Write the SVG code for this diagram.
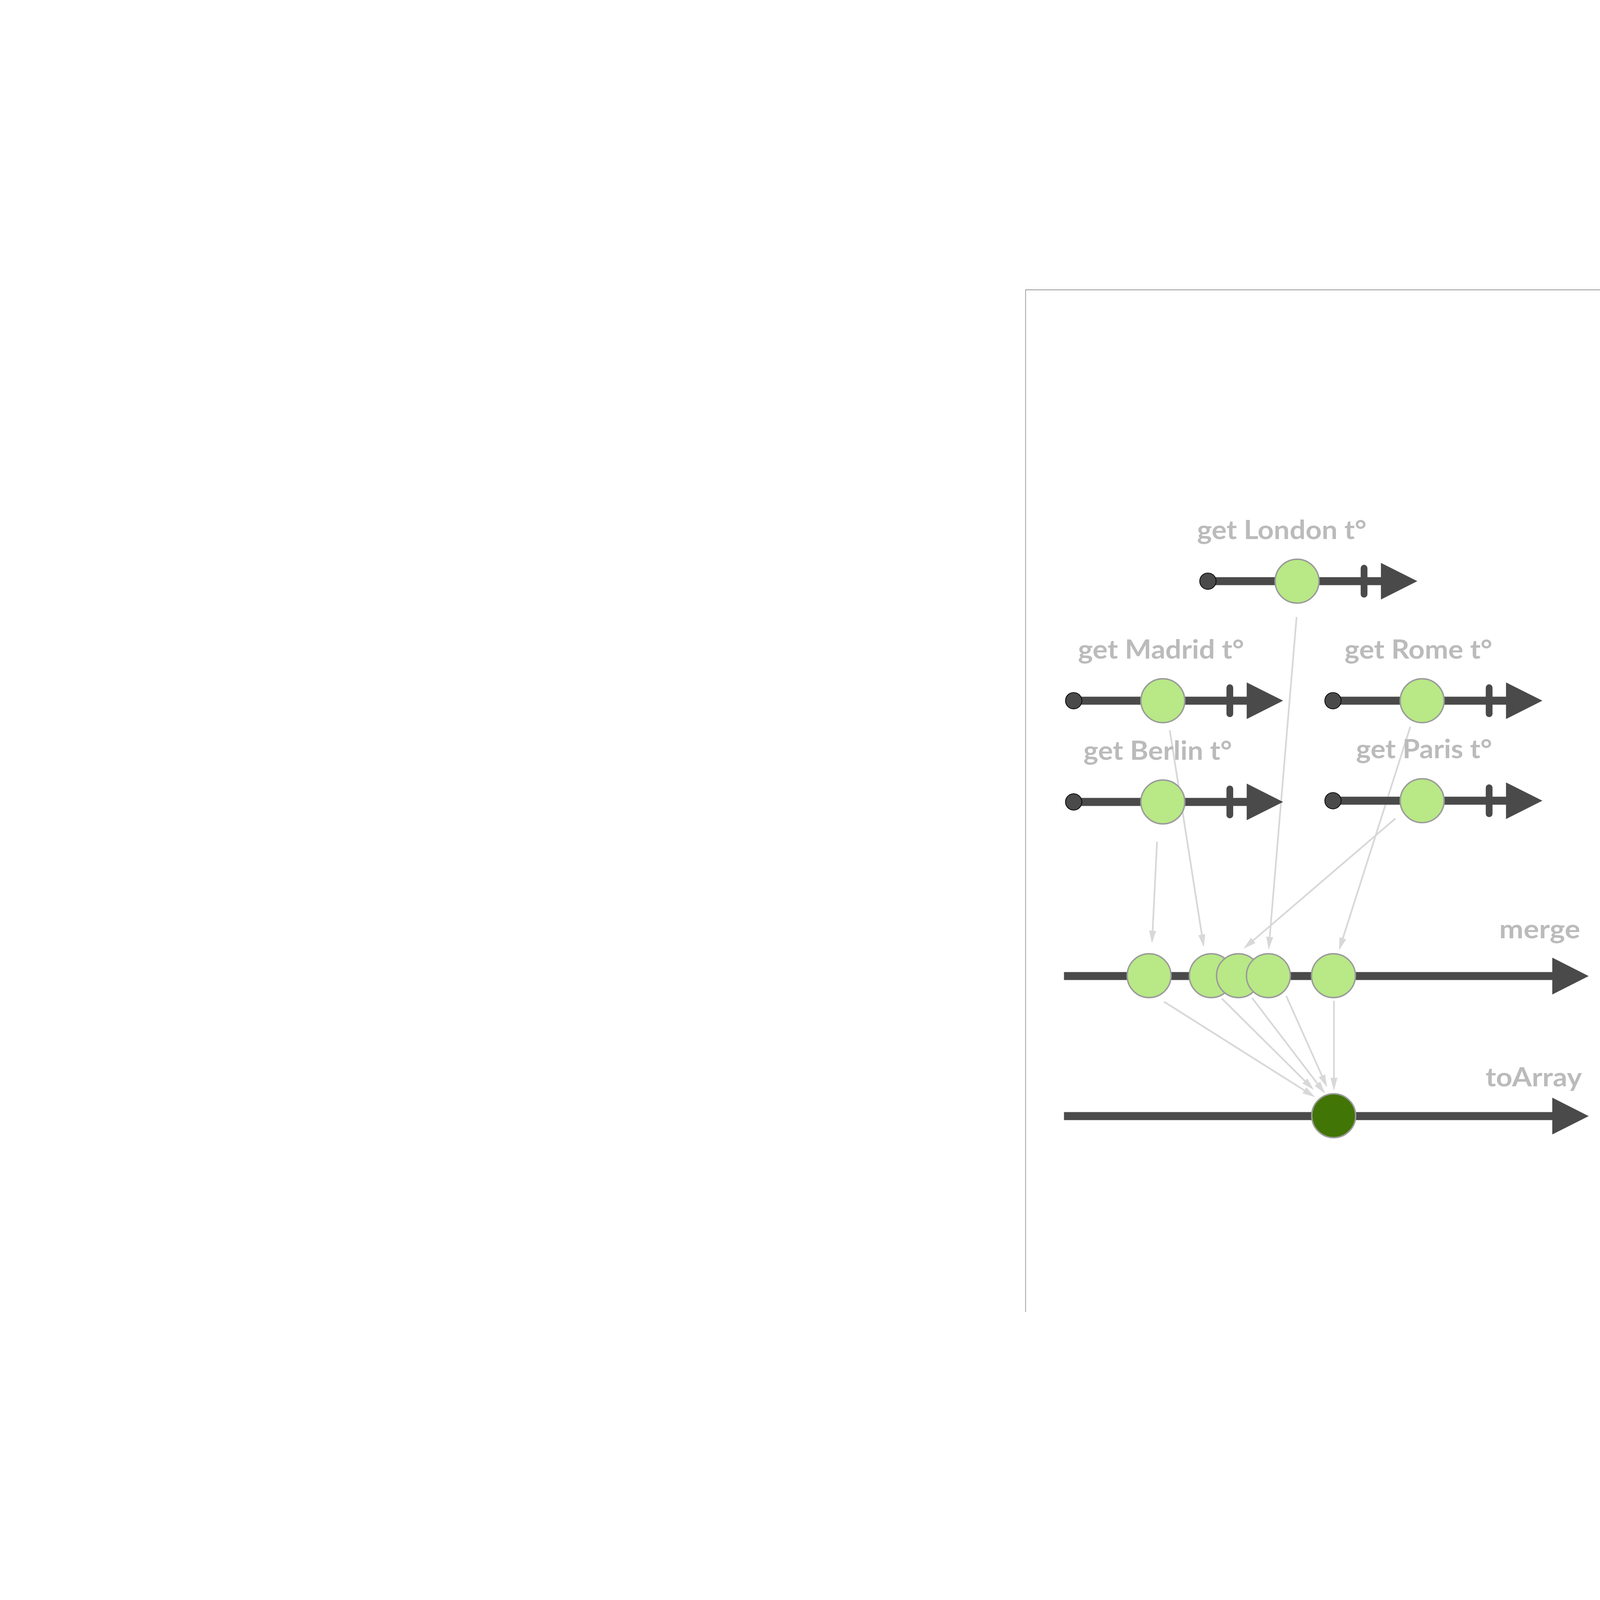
<svg xmlns="http://www.w3.org/2000/svg" width="6639" height="4248" viewBox="0 0 6639 4248">
<style>
:root{width:100%;height:100%}
.bar{fill:#4a4a4a;stroke:#9b9b9b;stroke-width:1}
.dark{fill:#4a4a4a}
.dot{fill:#4a4a4a;stroke:#000;stroke-width:3}
.marble{fill:#b8e986;stroke:#9b9b9b;stroke-width:6}
.result{fill:#417505;stroke:#9b9b9b;stroke-width:6}
.lbl{font-family:Lato,"Open Sans","Liberation Sans",sans-serif;font-weight:700;font-size:110px;fill:#bbbbbb}
.conn{fill:none;stroke:#d8d8d8;stroke-width:7;marker-end:url(#ah)}
.frame{fill:none;stroke:#999999;stroke-width:3}
</style>
<defs>
<marker id="ah" markerUnits="userSpaceOnUse" viewBox="0 0 53 29" markerWidth="53" markerHeight="29" refX="8" refY="14.5" orient="auto">
<path d="M0,0 L53,14.5 L0,29 z" fill="#d8d8d8"/>
</marker>
<g id="stream">
<rect class="bar" x="0" y="-16.5" width="720" height="33"/>
<rect class="dark" x="634" y="-68" width="28" height="136" rx="14"/>
<polygon class="dark" points="718,-76 869,0 718,76"/>
<circle class="dot" cx="0" cy="0" r="34"/>
</g>
</defs>
<path class="frame" d="M4255.5,4248 V7.2 H6639"/>
<g id="connectors">
<path class="conn" d="M4801,2297 L4782.2,2674.1"/>
<path class="conn" d="M4854,1835 L4988,2690.5"/>
<path class="conn" d="M5380,1365 L5267.8,2700.2"/>
<path class="conn" d="M5852,1820 L5569.7,2705.1"/>
<path class="conn" d="M5790,2201 L5194.1,2711.6"/>
<path class="conn" d="M4830,2961 L5419,3333"/>
<path class="conn" d="M5070,2948 L5420,3295.4"/>
<path class="conn" d="M5195,2945 L5471.5,3307.4"/>
<path class="conn" d="M5337,2937 L5488.3,3275.1"/>
<path class="conn" d="M5535,2957 L5535,3285"/>
</g>
<g id="london">
<use href="#stream" transform="translate(5012,1216)"/>
<circle class="marble" cx="5382" cy="1216" r="91"/>
<text class="lbl" x="4967" y="1042" textLength="703" lengthAdjust="spacingAndGlyphs">get London t°</text>
</g>
<g id="madrid">
<use href="#stream" transform="translate(4455,1712)"/>
<circle class="marble" cx="4825" cy="1712" r="91"/>
<text class="lbl" x="4473" y="1537" textLength="689" lengthAdjust="spacingAndGlyphs">get Madrid t°</text>
</g>
<g id="rome">
<use href="#stream" transform="translate(5531,1712)"/>
<circle class="marble" cx="5901" cy="1712" r="91"/>
<text class="lbl" x="5579" y="1537" textLength="613" lengthAdjust="spacingAndGlyphs">get Rome t°</text>
</g>
<g id="berlin">
<use href="#stream" transform="translate(4455,2132)"/>
<circle class="marble" cx="4825" cy="2132" r="91"/>
<text class="lbl" x="4496" y="1957" textLength="616" lengthAdjust="spacingAndGlyphs">get Berlin t°</text>
</g>
<g id="paris">
<use href="#stream" transform="translate(5531,2127)"/>
<circle class="marble" cx="5901" cy="2127" r="91"/>
<text class="lbl" x="5627" y="1950" textLength="564" lengthAdjust="spacingAndGlyphs">get Paris t°</text>
</g>
<g id="merge">
<rect class="bar" x="4415" y="2838" width="2030" height="33"/>
<polygon class="dark" points="6441,2778 6592,2854.5 6441,2931"/>
<circle class="marble" cx="4768" cy="2853" r="91"/>
<circle class="marble" cx="5026" cy="2853" r="91"/>
<circle class="marble" cx="5139" cy="2853" r="91"/>
<circle class="marble" cx="5263" cy="2853" r="91"/>
<circle class="marble" cx="5533" cy="2853" r="91"/>
<text class="lbl" x="6221" y="2697" textLength="336" lengthAdjust="spacingAndGlyphs">merge</text>
</g>
<g id="toArray">
<rect class="bar" x="4415" y="3419" width="2030" height="33"/>
<polygon class="dark" points="6441,3359 6592,3435.5 6441,3512"/>
<circle class="result" cx="5534" cy="3434" r="91"/>
<text class="lbl" x="6164" y="3312" textLength="400" lengthAdjust="spacingAndGlyphs">toArray</text>
</g>
</svg>
